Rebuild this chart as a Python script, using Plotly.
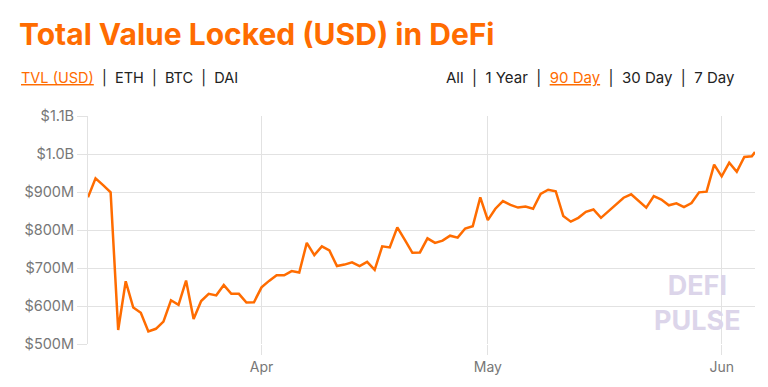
import plotly.graph_objects as go
import pandas as pd

# ---- data ----
dates = list(pd.date_range("2020-03-09", "2020-06-04", freq="D").strftime("%Y-%m-%d")) + ["2020-06-05", "2020-06-05 10:00"]
tvl_musd = [
    886, 936, 918, 899, 537, 665, 596, 582, 533, 540,
    559, 615, 603, 667, 566, 613, 632, 628, 655, 632,
    632, 609, 610, 649, 666, 681, 681, 692, 688, 766,
    734, 757, 746, 705, 709, 715, 705, 716, 695, 757,
    754, 807, 774, 740, 741, 778, 766, 772, 785, 780,
    804, 810, 886, 826, 856, 876, 866, 859, 862, 856,
    895, 906, 902, 837, 822, 832, 848, 854, 832, 849,
    866, 885, 894, 876, 859, 889, 880, 865, 870, 860,
    871, 899, 901, 972, 941, 977, 953, 992, 994, 1005,
]
ytick_vals = [500, 600, 700, 800, 900, 1000, 1100]
ytick_text = ["$500M", "$600M", "$700M", "$800M", "$900M", "$1.0B", "$1.1B"]
xtick_vals = ["2020-04-01", "2020-05-01", "2020-06-01"]
xtick_text = ["Apr", "May", "Jun"]

ORANGE = "#ff6c00"
GRID = "#e2e2e2"
FONT = "Inter, Roboto, 'Noto Sans', sans-serif"

W, H = 768, 387
L, R, T, B = 88, 13, 116, 39
pw, ph = W - L - R, H - T - B


def px(x):
    return (x - L) / pw


def py(y):
    return (H - B - y) / ph


fig = go.Figure()
fig.add_trace(go.Scatter(
    x=dates, y=tvl_musd, mode="lines",
    line=dict(color=ORANGE, width=2.5),
    hoverinfo="skip", showlegend=False,
))

fig.update_layout(
    width=W, height=H,
    margin=dict(l=L, r=R, t=T, b=B),
    paper_bgcolor="white", plot_bgcolor="white",
    font=dict(family=FONT, color="#777777", size=14),
    xaxis=dict(
        range=[dates[0], dates[-1]],
        tickvals=xtick_vals, ticktext=xtick_text,
        showgrid=True, gridcolor=GRID, gridwidth=1,
        ticks="outside", ticklen=10, tickcolor=GRID,
        showline=False, zeroline=False,
        tickfont=dict(size=14, color="#777777"),
    ),
    yaxis=dict(
        range=[500, 1100],
        tickvals=ytick_vals, ticktext=ytick_text,
        showgrid=True, gridcolor=GRID, gridwidth=1,
        ticks="outside", ticklen=10, tickcolor=GRID,
        showline=True, linecolor=GRID, linewidth=1,
        zeroline=False,
        tickfont=dict(size=14.5, color="#777777"),
    ),
)

ann = [
    dict(text="<b>Total Value Locked (USD) in DeFi</b>", x=px(17), y=py(33),
         xanchor="left", yanchor="middle",
         font=dict(size=30, color=ORANGE, family=FONT)),
    dict(text="<span style='color:%s'><u>TVL (USD)</u></span>  |  ETH  |  BTC  |  DAI" % ORANGE,
         x=px(19), y=py(77), xanchor="left", yanchor="middle",
         font=dict(size=14.5, color="#222222", family=FONT)),
    dict(text="All  |  1 Year  |  <span style='color:%s'><u>90 Day</u></span>  |  30 Day  |  7 Day" % ORANGE,
         x=px(737), y=py(77), xanchor="right", yanchor="middle",
         font=dict(size=15, color="#222222", family=FONT)),
    dict(text="<b>DEFI<br>PULSE</b>", x=px(697), y=py(306),
         xanchor="center", yanchor="middle", align="center",
         font=dict(size=27, color="#dcd5ea", family=FONT)),
]
for a in ann:
    a.update(xref="paper", yref="paper", showarrow=False)
fig.update_layout(annotations=ann)

fig.write_html(
    "out.html",
    config={"displayModeBar": False},
    post_script="document.body.style.margin='0';document.body.style.padding='0';",
)
